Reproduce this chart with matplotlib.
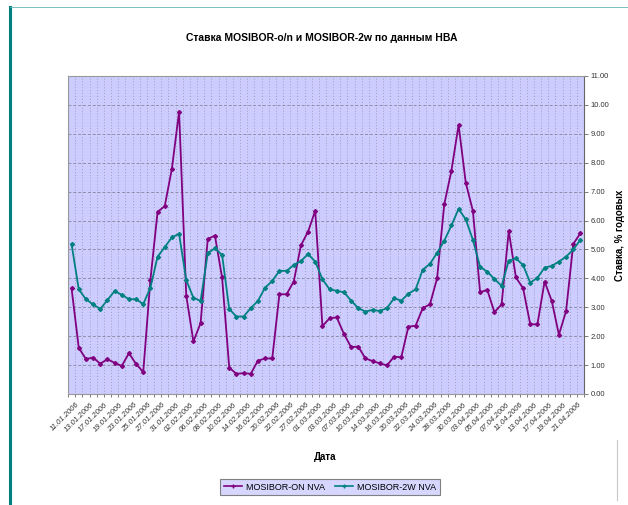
import matplotlib
matplotlib.use("Agg")
import matplotlib.pyplot as plt
import numpy as np
from matplotlib.lines import Line2D

plt.rcParams['font.family'] = ['Liberation Sans Narrow', 'Liberation Sans', 'DejaVu Sans']

dates = [
    "11.01.2006", "12.01.2006", "13.01.2006", "16.01.2006", "17.01.2006", "18.01.2006",
    "19.01.2006", "20.01.2006", "23.01.2006", "24.01.2006", "25.01.2006", "26.01.2006",
    "27.01.2006", "30.01.2006", "31.01.2006", "01.02.2006", "02.02.2006", "03.02.2006",
    "06.02.2006", "07.02.2006", "08.02.2006", "09.02.2006", "10.02.2006", "13.02.2006",
    "14.02.2006", "15.02.2006", "16.02.2006", "17.02.2006", "20.02.2006", "21.02.2006",
    "22.02.2006", "24.02.2006", "27.02.2006", "28.02.2006", "01.03.2006", "02.03.2006",
    "03.03.2006", "06.03.2006", "07.03.2006", "09.03.2006", "10.03.2006", "13.03.2006",
    "14.03.2006", "15.03.2006", "16.03.2006", "17.03.2006", "20.03.2006", "21.03.2006",
    "22.03.2006", "23.03.2006", "24.03.2006", "27.03.2006", "28.03.2006", "29.03.2006",
    "30.03.2006", "31.03.2006", "03.04.2006", "04.04.2006", "05.04.2006", "06.04.2006",
    "07.04.2006", "10.04.2006", "11.04.2006", "12.04.2006", "13.04.2006", "14.04.2006",
    "17.04.2006", "18.04.2006", "19.04.2006", "20.04.2006", "21.04.2006", "24.04.2006",
]

mosibor_on = [
    3.65, 1.60, 1.21, 1.26, 1.05, 1.20, 1.08, 0.97, 1.41, 1.04, 0.76, 3.95,
    6.30, 6.50, 7.80, 9.77, 3.40, 1.82, 2.45, 5.36, 5.48, 4.03, 0.91, 0.70,
    0.72, 0.70, 1.15, 1.23, 1.23, 3.45, 3.45, 3.89, 5.14, 5.62, 6.34, 2.35,
    2.62, 2.65, 2.08, 1.62, 1.64, 1.23, 1.14, 1.06, 0.99, 1.29, 1.27, 2.33,
    2.36, 2.97, 3.10, 4.00, 6.56, 7.72, 9.31, 7.31, 6.33, 3.52, 3.60, 2.83,
    3.10, 5.64, 4.03, 3.66, 2.41, 2.41, 3.89, 3.22, 2.05, 2.87, 5.19, 5.56,
]

mosibor_2w = [
    5.18, 3.62, 3.28, 3.10, 2.94, 3.25, 3.56, 3.43, 3.28, 3.28, 3.11, 3.68,
    4.75, 5.08, 5.42, 5.54, 3.94, 3.33, 3.22, 4.87, 5.04, 4.81, 2.94, 2.68,
    2.68, 2.97, 3.22, 3.68, 3.91, 4.26, 4.26, 4.46, 4.60, 4.84, 4.58, 3.97,
    3.62, 3.57, 3.52, 3.23, 2.97, 2.85, 2.91, 2.87, 2.97, 3.31, 3.23, 3.47,
    3.62, 4.30, 4.50, 4.88, 5.30, 5.83, 6.40, 6.04, 5.33, 4.40, 4.23, 3.98,
    3.74, 4.61, 4.69, 4.46, 3.85, 4.02, 4.37, 4.43, 4.58, 4.75, 5.00, 5.33,
]

title = "Ставка MOSIBOR-o/n и MOSIBOR-2w по данным НВА"
series_names = ["MOSIBOR-ON NVA", "MOSIBOR-2W NVA"]
colors = ["#800080", "#008080"]

W, H = 628, 505
fig = plt.figure(figsize=(W / 100, H / 100), dpi=100)
fig.patch.set_facecolor("white")

# outer decorative frame lines
fig.add_artist(Line2D([10 / W, 10 / W], [0, 1 - 7 / H], color="#008080", lw=2.2))
fig.add_artist(Line2D([10 / W, 1], [1 - 7 / H, 1 - 7 / H], color="#66b3b3", lw=0.6))
fig.add_artist(Line2D([617 / W, 617 / W], [1 - 500 / H, 1 - 440 / H], color="#c8c8c8", lw=0.8))

ax = fig.add_axes([68 / W, 1 - 394 / H, (584 - 68) / W, (394 - 76) / H])
ax.set_facecolor("#ccccff")

n = len(dates)
x = np.arange(n)
ax.set_xlim(-0.5, n - 0.5)
ax.set_ylim(0, 11)

# grid
ax.set_xticks(np.arange(-0.5, n, 1.0))
ax.set_xticklabels([])
for xv in np.arange(0.5, n - 0.5, 1.0):
    ax.axvline(xv, color="#8f8fa8", lw=0.6, ls=(0, (1, 2.5)), zorder=1)
for yv in np.arange(1, 11, 1.0):
    ax.axhline(yv, color="#8f8fa8", lw=0.7, ls=(0, (3, 2)), zorder=1)

ax.plot(x, mosibor_on, color=colors[0], lw=1.3, marker="D", ms=2.0, zorder=3, label=series_names[0])
ax.plot(x, mosibor_2w, color=colors[1], lw=1.3, marker="D", ms=2.0, zorder=3, label=series_names[1])

for s in ax.spines.values():
    s.set_color("#999999")
    s.set_linewidth(0.8)
ax.spines["right"].set_color("#666666")

ax.yaxis.tick_right()
ax.yaxis.set_label_position("right")
ax.set_yticks(np.arange(0, 12, 1))
ax.set_yticklabels([f"{v:.2f}" for v in np.arange(0, 12, 1)], fontsize=5.5, color="#333333")
ax.tick_params(axis="y", direction="out", length=3, width=0.6, color="#666666", pad=2)
ax.tick_params(axis="x", direction="out", length=2.5, width=0.6, color="#666666")

# x labels every second category
for i in range(0, n, 2):
    ax.text(i + 0.6, -0.25, dates[i], rotation=45, ha="right", va="top", fontsize=5.5,
            color="#333333", style="italic", transform=ax.transData, clip_on=False,
            rotation_mode="anchor")

ax.set_ylabel("Ставка, % годовых", fontsize=7, fontweight="bold", labelpad=4)
fig.text(325 / W, 1 - 457 / H, "Дата", ha="center", va="center", fontsize=7, fontweight="bold")
fig.text(322 / W, 1 - 38 / H, title, ha="center", va="center", fontsize=7.5, fontweight="bold")

handles = [Line2D([0], [0], color=c, lw=1.2, marker="+", ms=3.5, mew=1) for c in colors]
leg = fig.legend(handles, series_names, loc="center", bbox_to_anchor=(330 / W, 1 - 487 / H),
                 ncol=2, fontsize=6.5, frameon=True, fancybox=False, handlelength=2.0,
                 handletextpad=0.4, columnspacing=1.2, borderpad=0.4)
leg.get_frame().set_facecolor("#ccccff")
leg.get_frame().set_edgecolor("#666666")
leg.get_frame().set_linewidth(0.8)

fig.savefig("out.png", dpi=100)
